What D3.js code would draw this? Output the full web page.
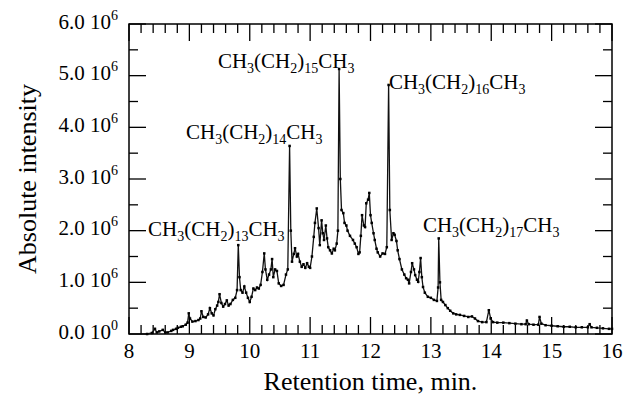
<!DOCTYPE html>
<html>
<head>
<meta charset="utf-8">
<script src="https://cdn.jsdelivr.net/npm/d3@7"></script>
<style>
  body { margin: 0; background: #fff; }
</style>
</head>
<body>
<div id="chart"></div>
<script>
// retention time (min) and absolute intensity (x 10^6)
var times = [8.30, 8.38, 8.43, 8.46, 8.50, 8.56, 8.60, 8.64, 8.70, 8.73, 8.78, 8.81, 8.86, 8.89, 8.94, 8.97, 8.99, 9.01, 9.05, 9.10,
  9.15, 9.18, 9.20, 9.23, 9.27, 9.31, 9.34, 9.37, 9.40, 9.43, 9.46, 9.48, 9.50, 9.53, 9.56, 9.59, 9.62, 9.65, 9.68, 9.72,
  9.76, 9.79, 9.81, 9.83, 9.85, 9.88, 9.91, 9.94, 9.97, 10.00, 10.03, 10.06, 10.09, 10.12, 10.15, 10.18, 10.21, 10.24, 10.26, 10.29,
  10.32, 10.35, 10.37, 10.39, 10.42, 10.45, 10.48, 10.52, 10.56, 10.60, 10.63, 10.66, 10.68, 10.70, 10.73, 10.75, 10.78, 10.80, 10.83, 10.86,
  10.89, 10.92, 10.95, 10.98, 11.00, 11.03, 11.06, 11.08, 11.11, 11.14, 11.16, 11.19, 11.21, 11.23, 11.26, 11.28, 11.30, 11.33, 11.36, 11.39,
  11.41, 11.44, 11.46, 11.48, 11.50, 11.52, 11.55, 11.57, 11.60, 11.62, 11.66, 11.71, 11.74, 11.77, 11.80, 11.82, 11.84, 11.86, 11.89, 11.91,
  11.93, 11.96, 11.98, 12.00, 12.02, 12.05, 12.07, 12.10, 12.12, 12.16, 12.20, 12.24, 12.27, 12.30, 12.32, 12.35, 12.38, 12.40, 12.43, 12.45,
  12.48, 12.52, 12.56, 12.59, 12.62, 12.64, 12.67, 12.69, 12.72, 12.74, 12.77, 12.79, 12.81, 12.83, 12.85, 12.87, 12.90, 12.95, 13.00, 13.05,
  13.10, 13.12, 13.13, 13.15, 13.17, 13.20, 13.24, 13.28, 13.32, 13.37, 13.42, 13.48, 13.55, 13.62, 13.68, 13.73, 13.78, 13.85, 13.92, 13.96,
  13.99, 14.03, 14.10, 14.20, 14.30, 14.40, 14.50, 14.57, 14.59, 14.62, 14.70, 14.78, 14.80, 14.83, 14.90, 15.00, 15.10, 15.20, 15.30, 15.40,
  15.50, 15.60, 15.63, 15.66, 15.75, 15.85, 15.95, 16.00];
var intensity = [0.00, 0.02, 0.10, 0.03, 0.05, 0.08, 0.03, 0.03, 0.06, 0.08, 0.10, 0.12, 0.14, 0.15, 0.18, 0.22, 0.40, 0.30, 0.24, 0.25,
  0.27, 0.30, 0.44, 0.33, 0.32, 0.38, 0.50, 0.40, 0.36, 0.48, 0.55, 0.62, 0.77, 0.60, 0.53, 0.58, 0.65, 0.55, 0.58, 0.66,
  0.70, 0.85, 1.72, 1.10, 0.85, 0.80, 0.92, 0.80, 0.70, 0.62, 0.72, 0.88, 0.85, 0.90, 0.88, 0.95, 1.20, 1.56, 1.25, 1.05,
  1.15, 1.25, 1.45, 1.10, 1.25, 1.22, 0.98, 0.93, 0.95, 1.15, 1.25, 3.64, 2.00, 1.40, 1.55, 1.66, 1.50, 1.55, 1.40, 1.30,
  1.35, 1.28, 1.37, 1.30, 1.28, 1.50, 1.88, 2.15, 2.43, 2.05, 1.72, 2.20, 1.95, 1.82, 2.10, 1.85, 1.68, 1.62, 1.56, 1.65,
  1.62, 1.75, 2.00, 5.13, 3.00, 2.40, 2.34, 2.15, 2.10, 2.00, 1.90, 1.82, 1.75, 1.68, 1.55, 1.58, 1.90, 2.30, 2.10, 2.07,
  2.53, 2.60, 2.73, 2.30, 2.15, 1.95, 1.82, 1.65, 1.58, 1.50, 1.56, 1.55, 1.68, 4.82, 2.40, 1.82, 1.95, 1.92, 1.80, 1.62,
  1.45, 1.25, 1.15, 1.08, 1.05, 0.98, 1.20, 1.37, 1.25, 1.14, 1.05, 1.01, 1.20, 1.47, 1.10, 0.91, 0.80, 0.72, 0.70, 0.66,
  0.64, 0.90, 1.85, 1.00, 0.66, 0.62, 0.56, 0.50, 0.45, 0.40, 0.38, 0.37, 0.35, 0.33, 0.34, 0.30, 0.25, 0.23, 0.23, 0.46,
  0.30, 0.23, 0.22, 0.22, 0.21, 0.20, 0.19, 0.19, 0.26, 0.19, 0.18, 0.18, 0.33, 0.20, 0.17, 0.16, 0.15, 0.14, 0.14, 0.13,
  0.13, 0.13, 0.19, 0.13, 0.12, 0.11, 0.10, 0.10];

// peak labels: chain length n in CH3(CH2)nCH3
var peakN = [13, 14, 15, 16, 17];
// where each label starts (time, intensity)
var labelAt = [[8.315, 1.90], [8.944, 3.78], [9.473, 5.15], [12.305, 4.74], [12.868, 1.97]];

var xMajor = [8, 9, 10, 11, 12, 13, 14, 15, 16];
var yMajor = [0, 1, 2, 3, 4, 5, 6];
var yLabels = ["0.0", "1.0", "2.0", "3.0", "4.0", "5.0", "6.0"];
var yExp = ["0", "6", "6", "6", "6", "6", "6"];

var FONT = "'Liberation Serif', 'Times New Roman', Times, 'DejaVu Serif', serif";

var margin = { top: 24, right: 11, bottom: 62, left: 129 },
  width = 623 - margin.left - margin.right,
  height = 396 - margin.top - margin.bottom;

var svg = d3.select("#chart")
  .append("svg")
  .attr("width", 623)
  .attr("height", 396)
  .append("g")
  .attr("transform", "translate(" + margin.left + "," + margin.top + ")");

var x = d3.scaleLinear().domain([8, 16]).range([0, width]);
var y = d3.scaleLinear().domain([0, 6]).range([height, 0]);

var xMinor = d3.range(8.2, 16, 0.2).filter(function (v) { return Math.abs(v - Math.round(v)) > 0.01; });
var yMinor = [0.5, 1.5, 2.5, 3.5, 4.5, 5.5];

// frame
svg.append("rect")
  .attr("width", width)
  .attr("height", height)
  .attr("fill", "none")
  .attr("stroke", "#000")
  .attr("stroke-width", 1.5);

// inward ticks on all four sides
function xTicks(vals, len) {
  [[height, -1], [0, 1]].forEach(function (side) {
    svg.selectAll(null).data(vals).enter().append("line")
      .attr("x1", function (d) { return x(d); })
      .attr("x2", function (d) { return x(d); })
      .attr("y1", side[0]).attr("y2", side[0] + side[1] * len)
      .attr("stroke", "#000").attr("stroke-width", 1.3);
  });
}
function yTicks(vals, len) {
  [[0, 1], [width, -1]].forEach(function (side) {
    svg.selectAll(null).data(vals).enter().append("line")
      .attr("y1", function (d) { return y(d); })
      .attr("y2", function (d) { return y(d); })
      .attr("x1", side[0]).attr("x2", side[0] + side[1] * len)
      .attr("stroke", "#000").attr("stroke-width", 1.3);
  });
}
xTicks(xMinor, 9);
xTicks(xMajor, 17);
yTicks(yMinor, 9);
yTicks(yMajor, 17);

// tick labels
svg.selectAll(null).data(xMajor).enter().append("text")
  .attr("x", function (d) { return x(d); })
  .attr("y", height + 24)
  .attr("text-anchor", "middle")
  .attr("font-family", FONT)
  .attr("font-size", 21)
  .text(function (d) { return d; });

svg.selectAll(null).data(yMajor).enter().append("text")
  .attr("x", -11)
  .attr("y", function (d) { return y(d) + 4.5; })
  .attr("text-anchor", "end")
  .attr("font-family", FONT)
  .attr("font-size", 21)
  .each(function (d, i) {
    var t = d3.select(this);
    t.append("tspan").text(yLabels[i] + " 10");
    t.append("tspan").attr("dy", -9).attr("font-size", 14).text(yExp[i]);
  });

// the trace
var data = times.map(function (t, i) { return { t: t, v: intensity[i] }; });

svg.append("path")
  .datum(data)
  .attr("fill", "none")
  .attr("stroke", "#111")
  .attr("stroke-width", 1.3)
  .attr("d", d3.line().x(function (d) { return x(d.t); }).y(function (d) { return y(d.v); }));

svg.selectAll(".pt")
  .data(data)
  .enter()
  .append("rect")
  .attr("class", "pt")
  .attr("x", function (d) { return x(d.t) - 1.25; })
  .attr("y", function (d) { return y(d.v) - 1.25; })
  .attr("width", 2.5)
  .attr("height", 2.5)
  .attr("fill", "#000");

// peak labels with subscripts
peakN.forEach(function (n, i) {
  var parts = [["CH", 0], ["3", 1], ["(CH", 0], ["2", 1], [")", 0], [String(n), 1], ["CH", 0], ["3", 1]];
  var t = svg.append("text")
    .attr("x", x(labelAt[i][0]))
    .attr("y", y(labelAt[i][1]))
    .attr("font-family", FONT)
    .attr("font-size", 21);
  var prevSub = 0;
  parts.forEach(function (p) {
    var shift = p[1] ? 5 : 0;
    t.append("tspan")
      .attr("dy", shift - prevSub)
      .attr("font-size", p[1] ? 14 : 21)
      .text(p[0]);
    prevSub = shift;
  });
});

// axis titles
svg.append("text")
  .attr("x", width / 2)
  .attr("y", height + 56)
  .attr("text-anchor", "middle")
  .attr("font-family", FONT)
  .attr("font-size", 26)
  .text("Retention time, min.");

svg.append("text")
  .attr("transform", "rotate(-90)")
  .attr("x", -height / 2)
  .attr("y", -93)
  .attr("text-anchor", "middle")
  .attr("font-family", FONT)
  .attr("font-size", 26)
  .text("Absolute intensity");
</script>
</body>
</html>
